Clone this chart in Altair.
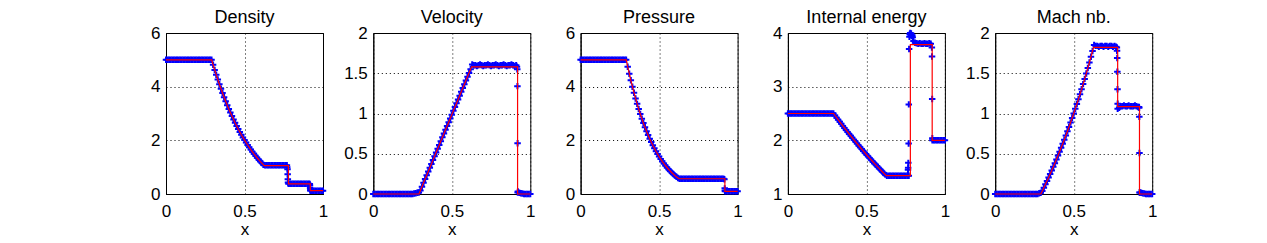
import altair as alt
import pandas as pd

FONT = "Liberation Sans"

# shared sample positions of the numerical (blue) solution
grid_x = [0.00, 0.01, 0.02, 0.03, 0.04, 0.05, 0.06, 0.07, 0.08, 0.09,
          0.10, 0.11, 0.12, 0.13, 0.14, 0.15, 0.16, 0.17, 0.18, 0.19,
          0.20, 0.21, 0.22, 0.23, 0.24, 0.25, 0.26, 0.27, 0.28, 0.29,
          0.30, 0.31, 0.32, 0.33, 0.34, 0.35, 0.36, 0.37, 0.38, 0.39,
          0.40, 0.41, 0.42, 0.43, 0.44, 0.45, 0.46, 0.47, 0.48, 0.49,
          0.50, 0.51, 0.52, 0.53, 0.54, 0.55, 0.56, 0.57, 0.58, 0.59,
          0.60, 0.61, 0.62, 0.63, 0.64, 0.65, 0.66, 0.67, 0.68, 0.69,
          0.70, 0.71, 0.72, 0.73, 0.74, 0.75, 0.76, 0.77, 0.78, 0.79,
          0.80, 0.81, 0.82, 0.83, 0.84, 0.85, 0.86, 0.87, 0.88, 0.89,
          0.90, 0.91, 0.92, 0.93, 0.94, 0.95, 0.96, 0.97, 0.98, 0.99,
          1.00]

# ---- numerical solution (blue crosses) ----
density_blue = ([5.0] * 30 +
                [4.815, 4.625, 4.441, 4.263, 4.091, 3.924, 3.763, 3.607, 3.457, 3.311,
                 3.171, 3.035, 2.904, 2.777, 2.655, 2.537, 2.424, 2.314, 2.209, 2.107,
                 2.009, 1.915, 1.825, 1.738, 1.654, 1.573, 1.496, 1.422, 1.351, 1.282,
                 1.216, 1.154, 1.093] +
                [1.07] * 15 + [0.38] * 14 + [0.125] * 9)
density_extra_x = [0.772, 0.774, 0.775, 0.776, 0.777, 0.916, 0.917, 0.918, 0.919]
density_extra_y = [1.00, 0.92, 0.74, 0.55, 0.43, 0.37, 0.32, 0.22, 0.15]

velocity_blue = ([0.0] * 26 + [0.005, 0.01, 0.015, 0.02] +
                 [0.044, 0.091, 0.139, 0.186, 0.233, 0.280, 0.327, 0.374, 0.421, 0.468,
                  0.515, 0.562, 0.609, 0.656, 0.704, 0.751, 0.798, 0.845, 0.892, 0.939,
                  0.986, 1.033, 1.080, 1.127, 1.174, 1.221, 1.269, 1.316, 1.363, 1.410,
                  1.457, 1.504, 1.551] +
                 [1.61, 1.60, 1.60, 1.59, 1.60, 1.61, 1.60, 1.59, 1.60, 1.60,
                  1.61, 1.60, 1.59, 1.60, 1.60, 1.61, 1.60, 1.59, 1.60, 1.60,
                  1.61, 1.60, 1.59, 1.60, 1.60, 1.61, 1.60, 1.59, 1.60] +
                 [0.02, 0.015, 0.01, 0.005, 0.0, 0.0, 0.0, 0.0, 0.0])
velocity_extra_x = [0.915, 0.917, 0.918, 0.919, 0.921]
velocity_extra_y = [1.58, 1.55, 1.34, 0.63, 0.03]

pressure_blue = ([5.0] * 30 +
                 [4.743, 4.483, 4.236, 4.000, 3.776, 3.562, 3.359, 3.166, 2.982, 2.808,
                  2.642, 2.485, 2.336, 2.195, 2.061, 1.934, 1.814, 1.701, 1.593, 1.491,
                  1.395, 1.305, 1.219, 1.138, 1.062, 0.991, 0.923, 0.860, 0.800, 0.744,
                  0.691, 0.642, 0.595] +
                 [0.57] * 29 + [0.10] * 9)
pressure_extra_x = [0.916, 0.918, 0.919]
pressure_extra_y = [0.55, 0.21, 0.13]

energy_blue = ([2.5] * 30 +
               [2.463, 2.423, 2.384, 2.346, 2.307, 2.269, 2.231, 2.194, 2.157, 2.120,
                2.084, 2.047, 2.012, 1.976, 1.941, 1.906, 1.871, 1.837, 1.803, 1.769,
                1.736, 1.703, 1.670, 1.638, 1.606, 1.574, 1.543, 1.512, 1.481, 1.451,
                1.420, 1.391, 1.361] +
               [1.34] * 15 +
               [3.97, 3.95, 3.85, 3.82, 3.81, 3.80, 3.81, 3.80, 3.80, 3.81,
                3.80, 3.80, 3.81, 3.80] +
               [2.0] * 9)
energy_extra_x = [0.765, 0.766, 0.767, 0.769, 0.770, 0.772, 0.774, 0.776, 0.779,
                  0.782, 0.785, 0.788, 0.792, 0.795, 0.917, 0.918, 0.919, 0.920]
energy_extra_y = [1.45, 1.49, 1.58, 1.94, 2.67, 3.70, 3.93, 3.98, 4.00,
                  3.97, 3.99, 3.95, 3.96, 3.92, 3.73, 3.56, 2.77, 2.04]

mach_blue = ([0.0] * 28 + [0.01, 0.015] +
             [0.038, 0.079, 0.120, 0.162, 0.205, 0.248, 0.292, 0.337, 0.383, 0.430,
              0.477, 0.525, 0.574, 0.624, 0.675, 0.727, 0.779, 0.833, 0.888, 0.943,
              1.000, 1.058, 1.117, 1.177, 1.238, 1.301, 1.365, 1.430, 1.496, 1.564,
              1.634, 1.704, 1.777] +
             [1.85, 1.84, 1.84, 1.83, 1.84, 1.84, 1.83, 1.84, 1.84, 1.83,
              1.84, 1.84, 1.83, 1.84, 1.83] +
             [1.06, 1.07, 1.09, 1.09, 1.10, 1.09, 1.09, 1.10, 1.09, 1.09,
              1.09, 1.10, 1.09, 1.08] +
             [0.02, 0.015, 0.01, 0.005, 0.0, 0.0, 0.0, 0.0, 0.0])
mach_extra_x = [0.775, 0.776, 0.777, 0.778, 0.779, 0.780, 0.916, 0.917, 0.918, 0.919, 0.921]
mach_extra_y = [1.82, 1.78, 1.69, 1.52, 1.30, 1.12, 1.08, 1.07, 0.96, 0.51, 0.02]

# ---- exact solution (red line) ----
red_x = [0.0, 0.291, 0.30, 0.32, 0.34, 0.36, 0.38, 0.40, 0.42, 0.44, 0.46, 0.48,
         0.50, 0.52, 0.54, 0.56, 0.58, 0.60, 0.626, 0.780, 0.780, 0.919, 0.919, 1.0]
density_red = [5, 5, 4.815, 4.441, 4.091, 3.763, 3.457, 3.171, 2.904, 2.655, 2.424, 2.209,
               2.009, 1.825, 1.654, 1.496, 1.351, 1.216, 1.057, 1.057, 0.375, 0.375, 0.125, 0.125]
velocity_red = [0, 0, 0.044, 0.139, 0.233, 0.327, 0.421, 0.515, 0.609, 0.704, 0.798, 0.892,
                0.986, 1.080, 1.174, 1.269, 1.363, 1.457, 1.580, 1.580, 1.580, 1.580, 0, 0]
pressure_red = [5, 5, 4.743, 4.236, 3.776, 3.359, 2.982, 2.642, 2.336, 2.061, 1.814, 1.593,
                1.395, 1.219, 1.062, 0.923, 0.800, 0.691, 0.568, 0.568, 0.568, 0.568, 0.1, 0.1]
energy_red = [2.5, 2.5, 2.463, 2.384, 2.307, 2.231, 2.157, 2.084, 2.012, 1.941, 1.871, 1.803,
              1.736, 1.670, 1.606, 1.543, 1.481, 1.420, 1.343, 1.343, 3.783, 3.783, 2.0, 2.0]
mach_red = [0, 0, 0.038, 0.120, 0.205, 0.292, 0.383, 0.477, 0.574, 0.675, 0.779, 0.888,
            1.0, 1.117, 1.238, 1.365, 1.496, 1.634, 1.822, 1.822, 1.086, 1.086, 0, 0]

titles = ["Density", "Velocity", "Pressure", "Internal energy", "Mach nb."]
x_ticks = [0, 0.5, 1]


def panel(title, blue_y, ex, ey, red_y, dom, ticks):
    blue = pd.DataFrame({"x": grid_x + ex, "y": blue_y + ey})
    red = pd.DataFrame({"x": red_x, "y": red_y, "i": list(range(len(red_x)))})
    xenc = alt.X("x:Q", scale=alt.Scale(domain=[0, 1], nice=False, zero=False),
                 axis=alt.Axis(values=x_ticks, title="x"))
    yenc = alt.Y("y:Q", scale=alt.Scale(domain=dom, nice=False, zero=False),
                 axis=alt.Axis(values=ticks, title=None))
    pts = alt.Chart(blue).mark_point(
        shape="M-1,0L1,0M0,-1L0,1", filled=False, color="#0000ff",
        size=42, strokeWidth=2, opacity=1
    ).encode(x=xenc, y=yenc)
    ln = alt.Chart(red).mark_line(color="#ff0000", strokeWidth=1.2).encode(
        x=xenc, y=yenc, order="i:Q")
    return alt.layer(pts, ln).properties(width=157, height=161, title=title)


panels = [
    panel(titles[0], density_blue, density_extra_x, density_extra_y, density_red, [0, 6], [0, 2, 4, 6]),
    panel(titles[1], velocity_blue, velocity_extra_x, velocity_extra_y, velocity_red, [0, 2], [0, 0.5, 1, 1.5, 2]),
    panel(titles[2], pressure_blue, pressure_extra_x, pressure_extra_y, pressure_red, [0, 6], [0, 2, 4, 6]),
    panel(titles[3], energy_blue, energy_extra_x, energy_extra_y, energy_red, [1, 4], [1, 2, 3, 4]),
    panel(titles[4], mach_blue, mach_extra_x, mach_extra_y, mach_red, [0, 2], [0, 0.5, 1, 1.5, 2]),
]

chart = alt.hconcat(*panels, spacing=6.3).properties(
    padding={"left": 122, "top": 0, "right": 5, "bottom": 0}
).configure_view(
    stroke="black", strokeWidth=1
).configure_axis(
    labelFont=FONT, labelFontSize=17, labelColor="black",
    titleFont=FONT, titleFontSize=17, titleFontWeight="normal", titleColor="black",
    domainColor="black", domainWidth=1, ticks=False,
    grid=True, gridColor="black", gridDash=[1, 3], gridOpacity=1, gridWidth=1,
    format="~g", labelFlush=False, labelOverlap=False
).configure_axisY(
    minExtent=35, maxExtent=35, labelPadding=6
).configure_axisX(
    labelPadding=9, titlePadding=2
).configure_title(
    font=FONT, fontSize=18, fontWeight="normal", color="black", offset=-2.5
)

chart.save("out.html", embed_options={"renderer": "svg", "actions": False})
